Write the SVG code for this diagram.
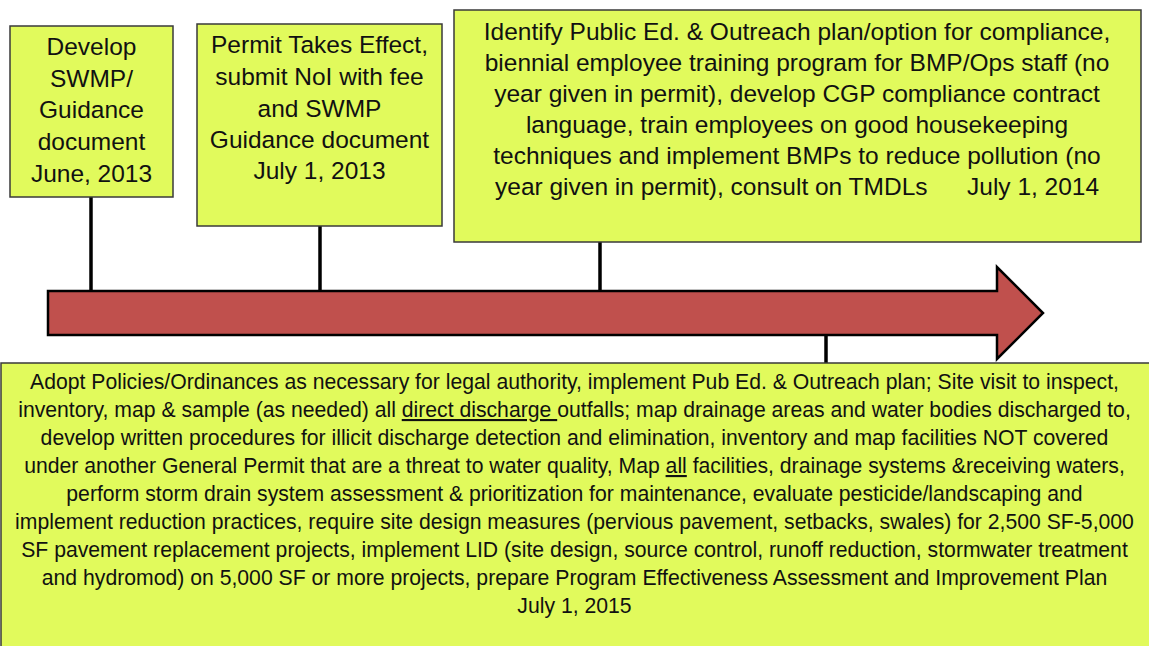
<svg xmlns="http://www.w3.org/2000/svg" width="1149" height="646" viewBox="0 0 1149 646">
<style>
.box{fill:#E1FA5C;stroke:#3a3a3a;stroke-width:1.5}
.t{font-family:"Liberation Sans",Arial,sans-serif;fill:#111;text-anchor:middle}
.s{text-anchor:start}
.big{font-size:24.5px}
.mid{font-size:24.5px}
.sm{font-size:21.2px}
.conn{stroke:#000;stroke-width:3.5;fill:none}
</style>
<rect width="1149" height="646" fill="#fff"/>
<g id="connectors">
<line class="conn" x1="91" y1="197" x2="91" y2="292"/>
<line class="conn" x1="320" y1="226" x2="320" y2="294"/>
<line class="conn" x1="600" y1="242" x2="600" y2="292"/>
<line class="conn" x1="826" y1="334" x2="826" y2="364"/>
</g>
<g id="timeline-arrow">
<polygon points="48,291 997,291 997,267 1043,313 997,359 997,335 48,335" fill="#C0504D" stroke="#000" stroke-width="2.5" stroke-linejoin="miter"/>
</g>
<g id="node-june-2013">
<rect class="box" x="10" y="26" width="163" height="171"/>
<text class="t big" x="91.5" y="55">Develop</text>
<text class="t big" x="91.5" y="87">SWMP/</text>
<text class="t big" x="91.5" y="118">Guidance</text>
<text class="t big" x="91.5" y="150">document</text>
<text class="t big" x="91.5" y="182">June, 2013</text>
</g>
<g id="node-july-2013">
<rect class="box" x="197" y="24" width="245" height="202"/>
<text class="t big" x="319.5" y="53">Permit Takes Effect,</text>
<text class="t big" x="319.5" y="85">submit NoI with fee</text>
<text class="t big" x="319.5" y="117">and SWMP</text>
<text class="t big" x="319.5" y="148">Guidance document</text>
<text class="t big" x="319.5" y="179">July 1, 2013</text>
</g>
<g id="node-july-2014">
<rect class="box" x="454" y="10" width="687" height="232"/>
<text class="t mid" x="797" y="40">Identify Public Ed. &amp; Outreach plan/option for compliance,</text>
<text class="t mid" x="797" y="71">biennial employee training program for BMP/Ops staff (no</text>
<text class="t mid" x="797" y="102">year given in permit), develop CGP compliance contract</text>
<text class="t mid" x="797" y="133">language, train employees on good housekeeping</text>
<text class="t mid" x="797" y="164">techniques and implement BMPs to reduce pollution (no</text>
<text class="t mid s" x="495" y="195">year given in permit), consult on TMDLs</text>
<text class="t mid s" x="967" y="195">July 1, 2014</text>
</g>
<g id="node-july-2015">
<rect class="box" x="1" y="363" width="1160" height="300"/>
<text class="t sm" x="574.5" y="389">Adopt Policies/Ordinances as necessary for legal authority, implement Pub Ed. &amp; Outreach plan; Site visit to inspect,</text>
<text class="t sm" x="574.5" y="417">inventory, map &amp; sample (as needed) all <tspan text-decoration="underline">direct discharge </tspan>outfalls; map drainage areas and water bodies discharged to,</text>
<text class="t sm" x="574.5" y="445">develop written procedures for illicit discharge detection and elimination, inventory and map facilities NOT covered</text>
<text class="t sm" x="574.5" y="473">under another General Permit that are a threat to water quality, Map <tspan text-decoration="underline">all</tspan> facilities, drainage systems &amp;receiving waters,</text>
<text class="t sm" x="574.5" y="501">perform storm drain system assessment &amp; prioritization for maintenance, evaluate pesticide/landscaping and</text>
<text class="t sm" x="574.5" y="529">implement reduction practices, require site design measures (pervious pavement, setbacks, swales) for 2,500 SF-5,000</text>
<text class="t sm" x="574.5" y="557">SF pavement replacement projects, implement LID (site design, source control, runoff reduction, stormwater treatment</text>
<text class="t sm" x="574.5" y="585">and hydromod) on 5,000 SF or more projects, prepare Program Effectiveness Assessment and Improvement Plan</text>
<text class="t sm" x="574.5" y="613">July 1, 2015</text>
</g>
</svg>
